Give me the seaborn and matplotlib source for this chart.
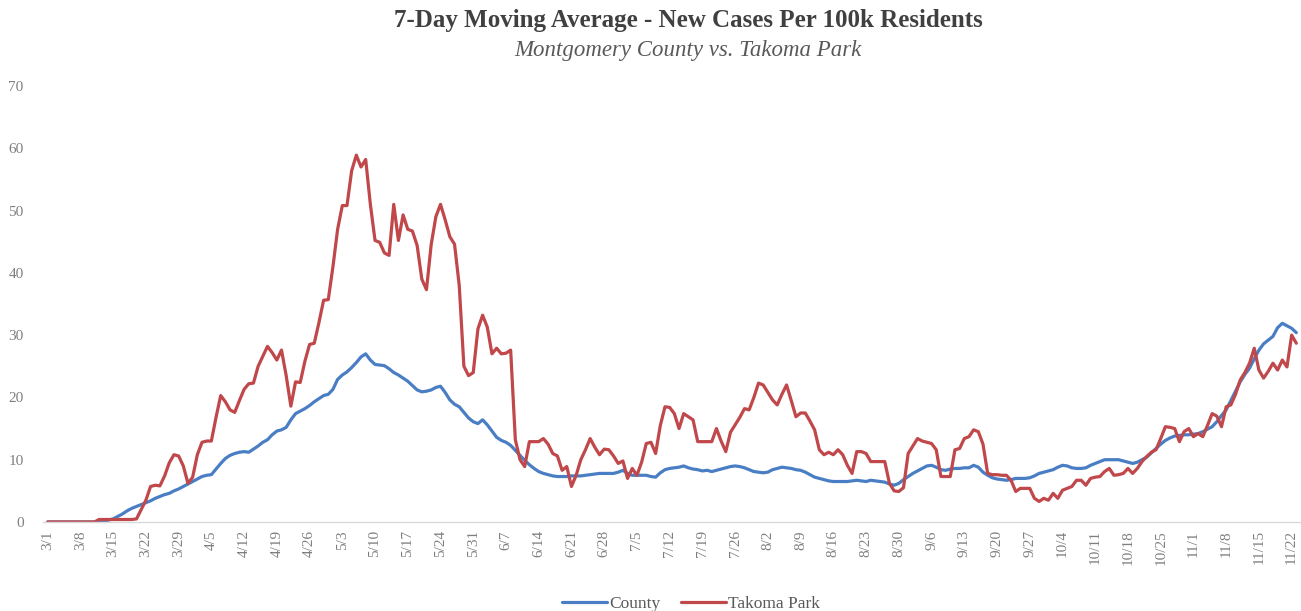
import numpy as np
import pandas as pd
import matplotlib
matplotlib.use("Agg")
import matplotlib.pyplot as plt
import seaborn as sns

# daily 7-day averages, 3/1 .. 11/23 (2020)
county = [
    0, 0, 0, 0, 0, 0, 0, 0, 0, 0,
    0, 0.1, 0.2, 0.3, 0.5, 0.9, 1.3, 1.8, 2.2, 2.5,
    2.8, 3.1, 3.4, 3.8, 4.1, 4.4, 4.6, 5.0, 5.3, 5.7,
    6.1, 6.5, 6.9, 7.3, 7.5, 7.6, 8.5, 9.4, 10.2, 10.7,
    11.0, 11.2, 11.3, 11.2, 11.7, 12.2, 12.8, 13.2, 14.0, 14.6,
    14.8, 15.2, 16.4, 17.4, 17.8, 18.2, 18.7, 19.3, 19.8, 20.3,
    20.5, 21.3, 22.9, 23.6, 24.1, 24.8, 25.6, 26.5, 27.0, 26.0,
    25.3, 25.2, 25.1, 24.6, 24.0, 23.6, 23.1, 22.6, 21.9, 21.2,
    20.9, 21.0, 21.2, 21.6, 21.8, 20.8, 19.6, 18.9, 18.5, 17.6,
    16.7, 16.1, 15.8, 16.4, 15.6, 14.6, 13.6, 13.1, 12.8, 12.3,
    11.5, 10.7, 9.9, 9.2, 8.6, 8.1, 7.8, 7.6, 7.4, 7.3,
    7.3, 7.3, 7.4, 7.4, 7.4, 7.5, 7.6, 7.7, 7.8, 7.8,
    7.8, 7.8, 8.0, 8.3, 7.8, 7.5, 7.5, 7.5, 7.5, 7.3,
    7.2, 7.9, 8.4, 8.6, 8.7, 8.8, 9.0, 8.7, 8.5, 8.4,
    8.2, 8.3, 8.1, 8.3, 8.5, 8.7, 8.9, 9.0, 8.9, 8.7,
    8.4, 8.1, 8.0, 7.9, 8.0, 8.4, 8.6, 8.8, 8.7, 8.6,
    8.4, 8.3, 8.0, 7.6, 7.2, 7.0, 6.8, 6.6, 6.5, 6.5,
    6.5, 6.5, 6.6, 6.7, 6.6, 6.5, 6.7, 6.6, 6.5, 6.4,
    6.1, 5.9, 6.2, 6.8, 7.3, 7.8, 8.2, 8.6, 9.0, 9.1,
    8.8, 8.4, 8.3, 8.5, 8.6, 8.6, 8.7, 8.7, 9.1, 8.8,
    8.0, 7.5, 7.1, 6.9, 6.8, 6.7, 6.8, 7.0, 7.0, 7.0,
    7.1, 7.4, 7.8, 8.0, 8.2, 8.4, 8.8, 9.1, 9.0, 8.7,
    8.6, 8.6, 8.7, 9.1, 9.4, 9.7, 10.0, 10.0, 10.0, 10.0,
    9.8, 9.6, 9.4, 9.6, 10.0, 10.4, 11.1, 11.8, 12.5, 13.1,
    13.5, 13.8, 13.9, 14.0, 14.0, 14.1, 14.2, 14.5, 14.9, 15.3,
    16.1, 17.1, 18.0, 19.5, 21.0, 22.5, 23.7, 24.7, 26.2, 27.6,
    28.6, 29.2, 29.8, 31.2, 31.9, 31.5, 31.1, 30.4,
]

takoma = [
    0, 0, 0, 0, 0, 0, 0, 0, 0, 0,
    0, 0.4, 0.4, 0.4, 0.4, 0.4, 0.4, 0.4, 0.4, 0.5,
    2.0, 3.5, 5.7, 5.9, 5.8, 7.4, 9.5, 10.8, 10.6, 9.0,
    6.2, 7.2, 10.8, 12.8, 13.0, 13.0, 16.8, 20.3, 19.3, 18.0,
    17.6, 19.5, 21.3, 22.2, 22.3, 25.0, 26.6, 28.2, 27.2, 26.0,
    27.6, 23.5, 18.6, 22.5, 22.4, 25.8, 28.5, 28.7, 32.0, 35.6,
    35.7, 41.0, 47.0, 50.8, 50.8, 56.4, 58.9, 57.0, 58.2, 51.0,
    45.2, 44.9, 43.2, 42.8, 51.0, 45.2, 49.3, 47.0, 46.7, 44.4,
    39.0, 37.3, 44.5, 49.0, 51.0, 48.5, 45.8, 44.6, 38.0, 25.0,
    23.5, 24.0, 31.0, 33.2, 31.3, 27.0, 27.9, 27.0, 27.1, 27.6,
    13.2, 10.0, 8.9, 12.9, 12.9, 12.9, 13.4, 12.5, 11.0, 10.6,
    8.3, 8.9, 5.7, 7.5, 10.0, 11.6, 13.4, 12.0, 10.8, 11.7,
    11.6, 10.6, 9.4, 9.8, 7.0, 8.6, 7.5, 9.6, 12.6, 12.8,
    11.0, 15.5, 18.5, 18.4, 17.4, 15.0, 17.4, 16.9, 16.4, 12.9,
    12.9, 12.9, 12.9, 15.0, 13.0, 11.3, 14.4, 15.6, 16.8, 18.2,
    18.0, 20.0, 22.3, 22.0, 20.8, 19.6, 18.8, 20.5, 22.0, 19.5,
    16.9, 17.5, 17.5, 16.2, 14.8, 11.6, 10.8, 11.2, 10.8, 11.6,
    10.8, 9.1, 7.8, 11.3, 11.3, 11.0, 9.7, 9.7, 9.7, 9.7,
    6.2, 5.0, 4.9, 5.5, 11.0, 12.2, 13.4, 13.0, 12.8, 12.6,
    11.6, 7.3, 7.3, 7.3, 11.6, 11.8, 13.4, 13.7, 14.8, 14.5,
    12.5, 7.8, 7.6, 7.6, 7.5, 7.5, 6.7, 4.9, 5.4, 5.4,
    5.4, 3.8, 3.3, 3.8, 3.5, 4.6, 3.8, 5.1, 5.4, 5.7,
    6.7, 6.7, 5.9, 7.0, 7.2, 7.3, 8.1, 8.6, 7.5, 7.6,
    7.8, 8.6, 7.8, 8.6, 9.7, 10.5, 11.2, 11.6, 13.4, 15.3,
    15.2, 15.0, 12.9, 14.5, 15.0, 13.7, 14.2, 13.7, 15.5, 17.4,
    17.0, 15.3, 18.5, 18.8, 20.5, 22.8, 24.0, 25.5, 27.9, 24.4,
    23.1, 24.2, 25.5, 24.4, 26.0, 24.9, 30.0, 28.7,
]

dates = pd.date_range("2020-03-01", periods=len(county), freq="D")
day = np.arange(len(county))
tick_days = day[::7]
tick_labels = [f"{d.month}/{d.day}" for d in dates[::7]]

df = pd.DataFrame({
    "day": np.concatenate([day, day]),
    "value": county + takoma,
    "series": ["County"] * len(county) + ["Takoma Park"] * len(takoma),
})

sns.set_style("white")
plt.rcParams["font.family"] = ["Liberation Serif", "DejaVu Serif"]

fig = plt.figure(figsize=(13.01, 6.11), dpi=100)
ax = fig.add_axes([43 / 1301, 89 / 611, 1258 / 1301, 436 / 611])

sns.lineplot(data=df, x="day", y="value", hue="series",
             palette={"County": "#4a7ec4", "Takoma Park": "#c0474a"},
             linewidth=2.3, ax=ax, legend=False)

ax.set_xlim(-1, 268)
ax.set_ylim(0, 70)
ax.set_yticks(range(0, 71, 10))
ax.set_xticks(tick_days)
ax.set_xticklabels(tick_labels, rotation=90)
ax.tick_params(axis="both", length=0, labelsize=11, colors="#7f7f7f")
ax.tick_params(axis="y", pad=14)
ax.tick_params(axis="x", pad=6)
ax.set_xlabel("")
ax.set_ylabel("")
for s in ["top", "right", "left"]:
    ax.spines[s].set_visible(False)
ax.spines["bottom"].set_color("#d9d9d9")
ax.spines["bottom"].set_linewidth(1)

fig.text(0.529, 0.967, "7-Day Moving Average - New Cases Per 100k Residents",
         ha="center", va="center", fontsize=18, fontweight="bold", color="#404040")
fig.text(0.529, 0.918, "Montgomery County vs. Takoma Park",
         ha="center", va="center", fontsize=16.5, style="italic", color="#595959")

handles = [plt.Line2D([], [], color="#4a7ec4", lw=2.3),
           plt.Line2D([], [], color="#c0474a", lw=2.3)]
fig.legend(handles, ["County", "Takoma Park"], loc="center", ncol=2,
           bbox_to_anchor=(0.531, 0.012), frameon=False, fontsize=12.5,
           handlelength=2.6, columnspacing=1.2, handletextpad=0.1,
           labelcolor="#595959")

fig.savefig("out.png", dpi=100)
